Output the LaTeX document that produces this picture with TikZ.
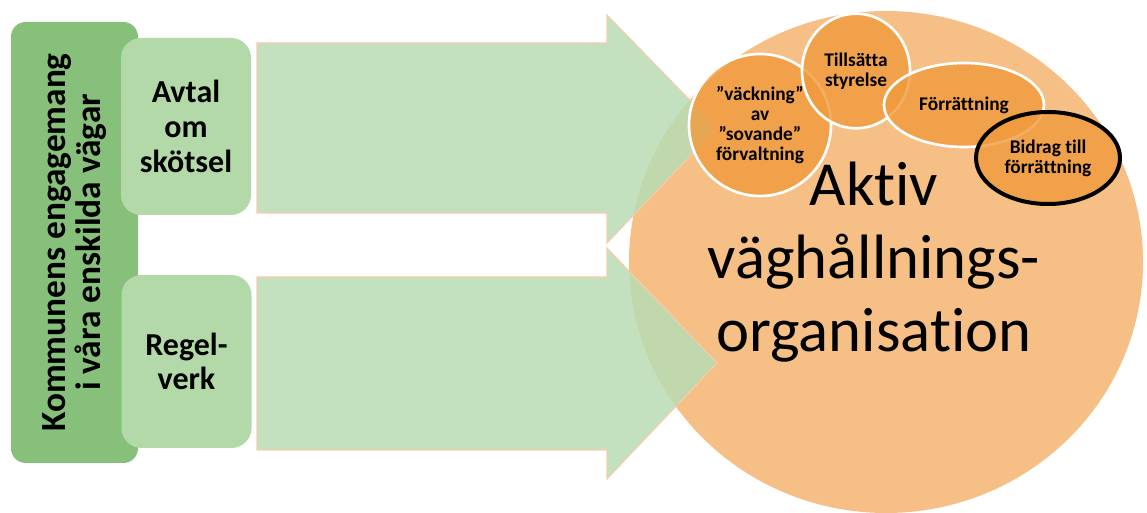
\documentclass[tikz,border=0pt]{standalone}
\usepackage{fontspec}
\setmainfont{Carlito}[Ligatures=NoCommon]
\usetikzlibrary{shapes.geometric}
\definecolor{leafdark}{HTML}{86C07A}
\definecolor{leaflight}{HTML}{B3D9A9}
\definecolor{arrowgreen}{HTML}{B9DCB4}
\definecolor{arrowedge}{HTML}{F8CBAD}
\definecolor{orgfill}{HTML}{F5BF85}
\definecolor{taskfill}{HTML}{F09A3C}
\begin{document}
\begin{tikzpicture}[
			x = 0.75pt, y = -0.75pt,
			outerbox/.style = {fill=leafdark, rounded corners=11pt, inner sep=0pt, align=center,
				font=\bfseries\fontsize{26.5}{26.5}\selectfont},
			innerbox/.style = {fill=leaflight, rounded corners=15pt, inner sep=0pt, align=center,
				minimum width=97.5pt, font=\bfseries\fontsize{24}{26}\selectfont},
			bigarrow/.style = {fill=arrowgreen, fill opacity=0.85, draw=arrowedge, line width=0.8pt},
			task/.style = {ellipse, fill=taskfill, fill opacity=0.8, text opacity=1, draw=white,
				line width=2pt, inner sep=0pt, align=center, font=\bfseries\fontsize{14.5}{15}\selectfont}
			]

			\useasboundingbox (0,0) rectangle (1147,513);

			\node[outerbox, rotate=90, minimum width=330.75pt, minimum height=95.25pt] (engagemang) at (74.5,242.5)
				{Kommunens engagemang\\i våra enskilda vägar};
			\node[innerbox, minimum height=132.75pt] (avtal) at (186,126.5) {Avtal\\om\\skötsel};
			\node[innerbox, minimum height=129.75pt] (regel) at (186.5,361.5) {Regel-\\verk};

			\node[ellipse, fill=orgfill, inner sep=0pt, minimum width=385.5pt, minimum height=376.5pt] (org) at (886,262) {};

			\draw[bigarrow] (257,43) -- (607,43) -- (607,15) -- (717,128) -- (607,243) -- (607,213) -- (257,213) -- cycle;
			\draw[bigarrow] (257,277) -- (607,277) -- (607,248) -- (717,363) -- (607,479) -- (607,450) -- (257,450) -- cycle;

			\node[task, minimum width=106.5pt, minimum height=106.5pt] (vackning) at (760,125)
				{”väckning”\\av\\”sovande”\\förvaltning};
			\node[task, minimum width=81pt, minimum height=86pt] (tillsatta) at (856,71) {Tillsätta\\styrelse};
			\node[task, minimum width=120pt, minimum height=63pt] (forrattning) at (964,105) {Förrättning};
			\node[task, draw=black, line width=3pt, minimum width=108pt, minimum height=69pt] (bidrag) at (1048,158)
				{Bidrag till\\förrättning};

			\node[align=center, inner sep=0pt, font=\fontsize{47}{55}\selectfont] (orgtext) at (874,262)
				{Aktiv\\väghållnings-\\organisation};

		\end{tikzpicture}
\end{document}
